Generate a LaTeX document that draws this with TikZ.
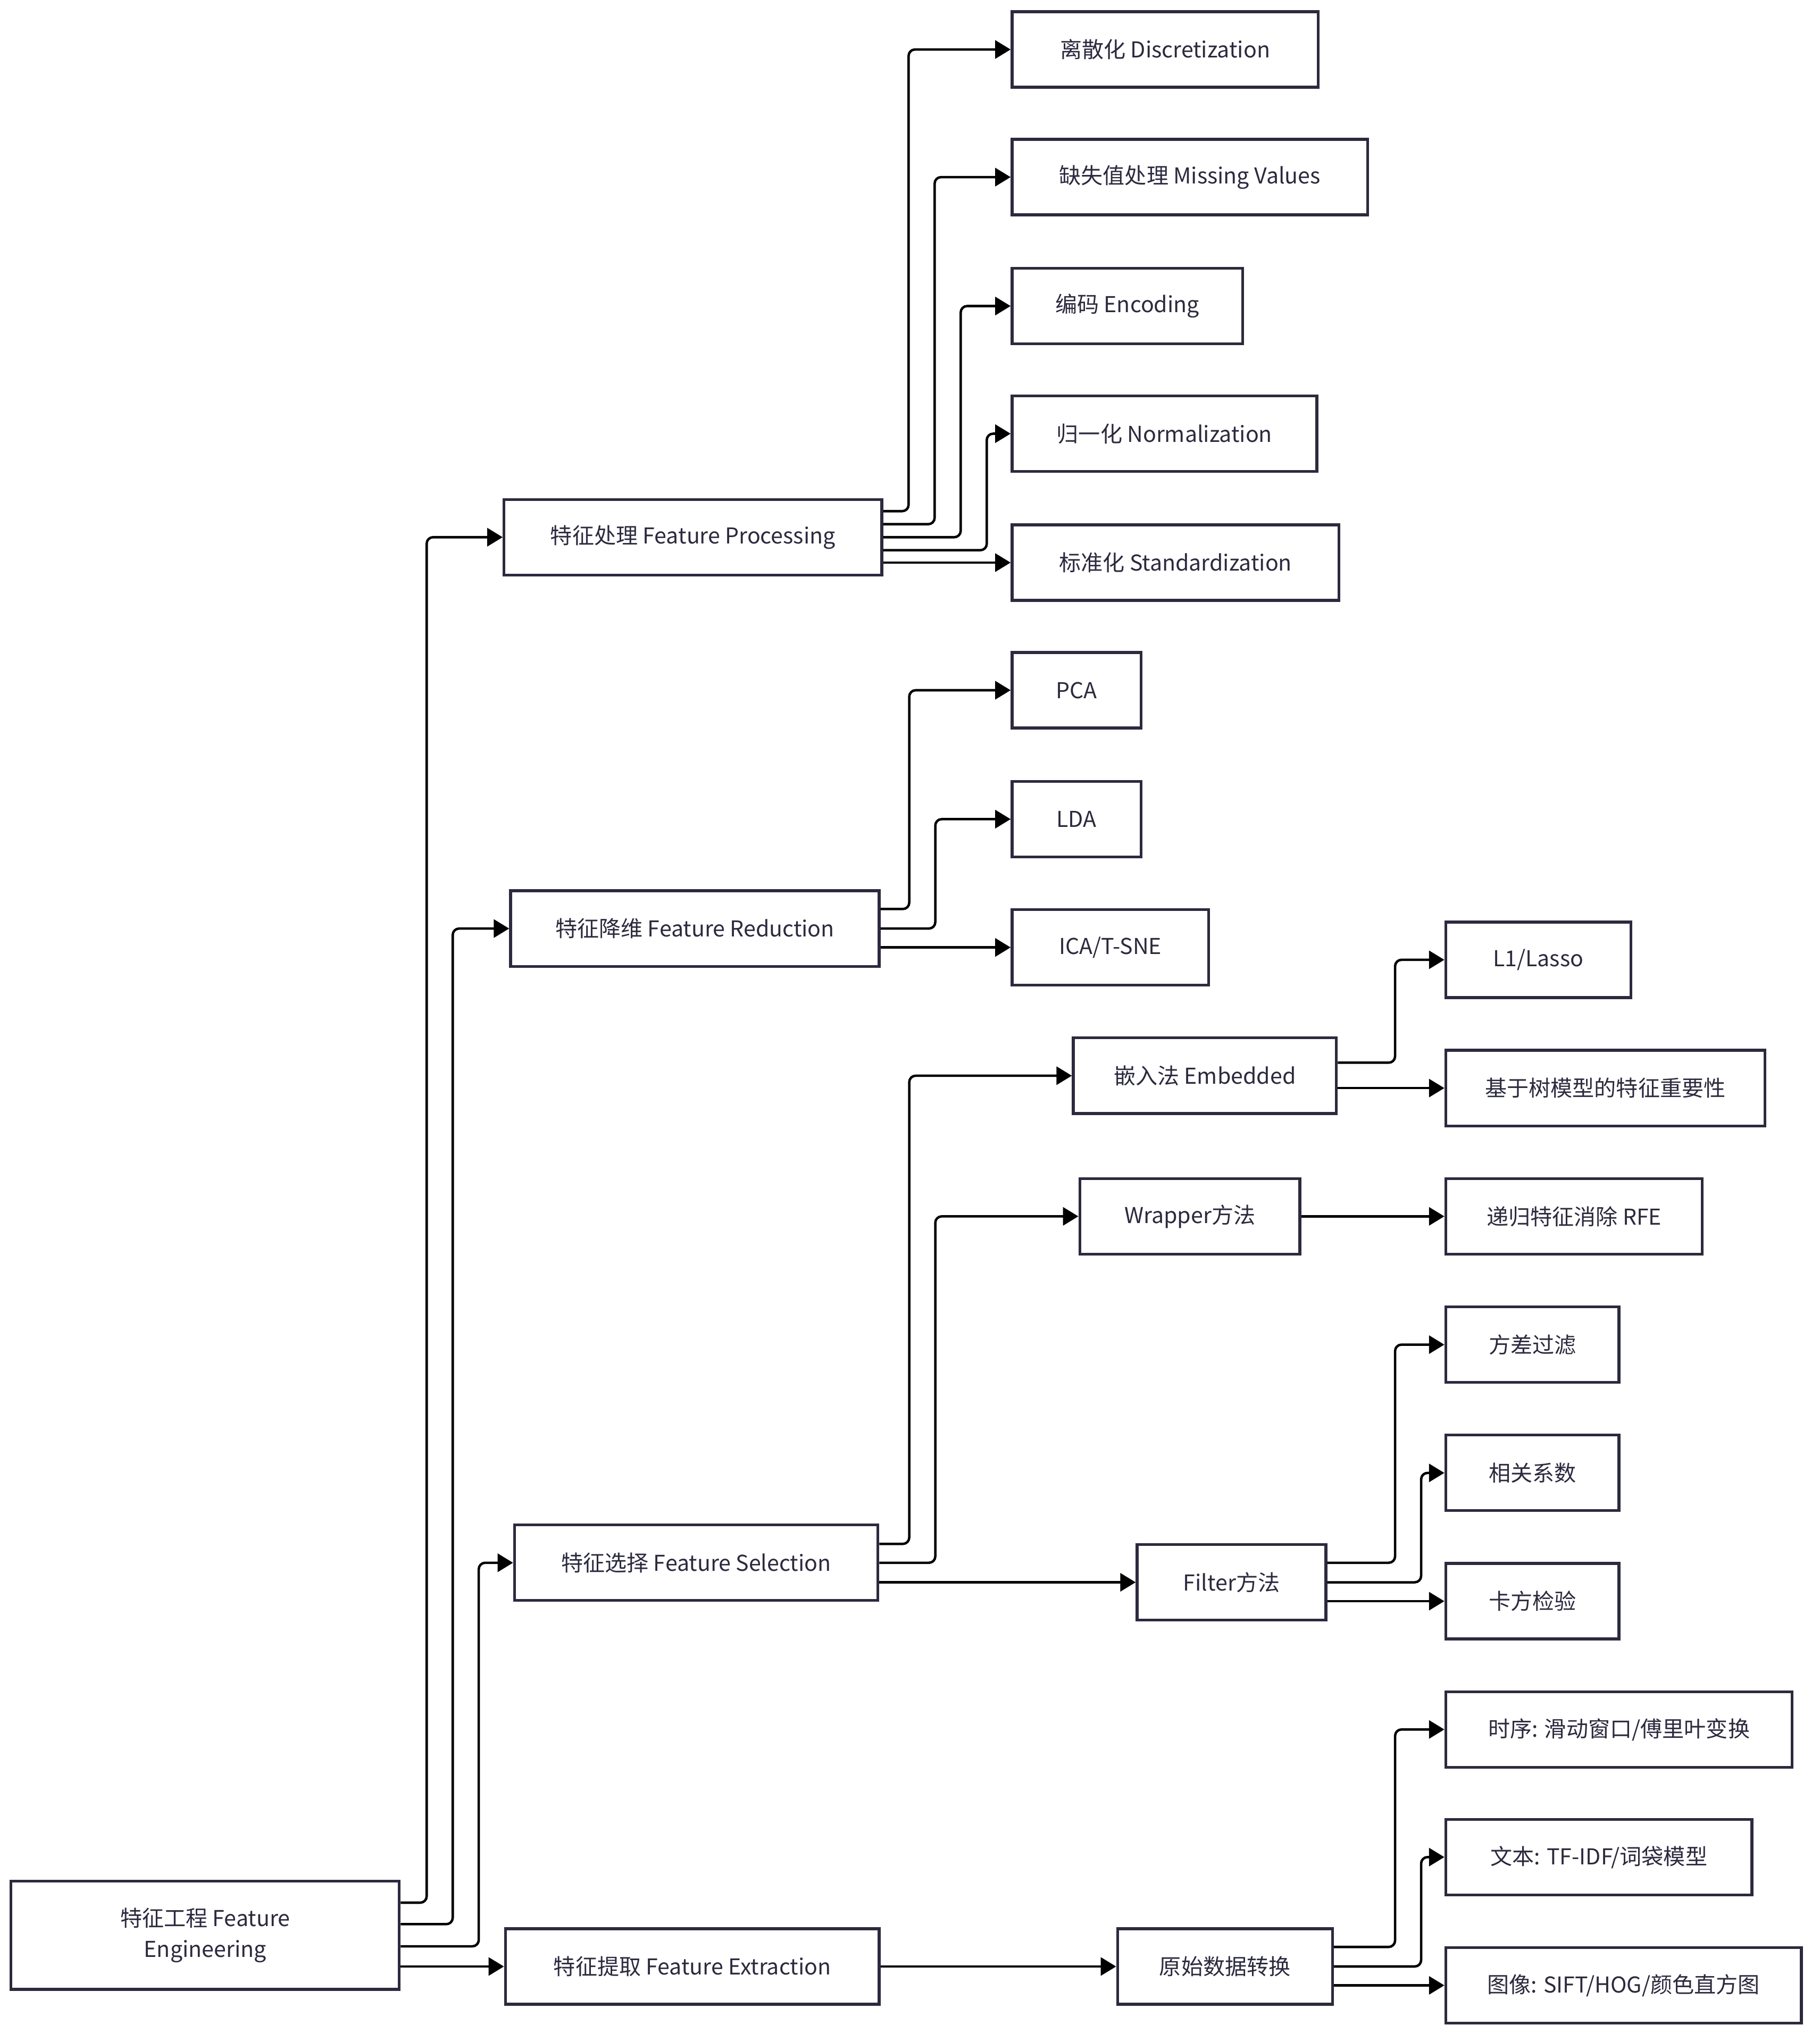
\documentclass[tikz,border=0pt]{standalone}
\usepackage{fontspec}
\setmainfont{Noto Sans CJK SC}
\usetikzlibrary{arrows.meta}
\definecolor{ink}{RGB}{43,42,62}

\begin{document}
\begin{tikzpicture}[x=0.24488mm,y=-0.24488mm,
				>={Triangle[length=2.9mm,width=3.4mm]},
				rounded corners=1.2mm,
				box/.style={rectangle, sharp corners, draw=ink, line width=1.5pt, fill=white, text=ink,
					minimum height=58*0.24488mm, inner sep=0pt,
					font=\fontsize{11.7pt}{16.5pt}\selectfont, align=center},
				wd/.style={minimum width=#1*0.24488mm},
				link/.style={->, line width=1.3pt, black}
			]
			\useasboundingbox (0,0) rectangle (1397,1568);
			
			\node[box,wd=298,minimum height=83*0.24488mm] (fe) at (157.5,1486) {特征工程 Feature\\Engineering};
			
			\node[box,wd=290] (fp) at (532,412.5) {特征处理 Feature Processing};
			\node[box,wd=283] (fr) at (533.5,713) {特征降维 Feature Reduction};
			\node[box,wd=279] (fs) at (534.5,1200) {特征选择 Feature Selection};
			\node[box,wd=287] (fx) at (531.5,1510) {特征提取 Feature Extraction};
			
			\node[box,wd=235] (fp_1) at (894.5,38) {离散化 Discretization};
			\node[box,wd=273] (fp_2) at (913.5,136) {缺失值处理 Missing Values};
			\node[box,wd=177] (fp_3) at (865.5,235) {编码 Encoding};
			\node[box,wd=234] (fp_4) at (894,333) {归一化 Normalization};
			\node[box,wd=251] (fp_5) at (902.5,432) {标准化 Standardization};
			
			\node[box,wd=99] (fr_1) at (826.5,530) {PCA};
			\node[box,wd=99] (fr_2) at (826.5,629) {LDA};
			\node[box,wd=151] (fr_3) at (852.5,727.5) {ICA/T-SNE};
			
			\node[box,wd=202] (fs_e) at (925,826) {嵌入法 Embedded};
			\node[box,wd=169] (fs_w) at (913.5,934) {Wrapper方法};
			\node[box,wd=145] (fs_f) at (945.5,1215) {Filter方法};
			\node[box,wd=165] (fx_r) at (940.5,1510) {原始数据转换};
			
			\node[box,wd=142] (e_1) at (1181,737) {L1/Lasso};
			\node[box,wd=245] (e_2) at (1232.5,835.5) {基于树模型的特征重要性};
			\node[box,wd=197] (w_1) at (1208.5,934) {递归特征消除 RFE};
			\node[box,wd=133] (f_1) at (1176.5,1032.5) {方差过滤};
			\node[box,wd=133] (f_2) at (1176.5,1131) {相关系数};
			\node[box,wd=133] (f_3) at (1176.5,1229.5) {卡方检验};
			\node[box,wd=266] (x_1) at (1243,1328) {时序: 滑动窗口/傅里叶变换};
			\node[box,wd=235] (x_2) at (1227.5,1426) {文本: TF-IDF/词袋模型};
			\node[box,wd=273] (x_3) at (1246.5,1524.5) {图像: SIFT/HOG/颜色直方图};
			
			% root
			\draw[link] (fe.east) ++(0,-25) -- ++(20,0) |- (fp.west);
			\draw[link] (fe.east) ++(0,-8.5) -- ++(40,0) |- (fr.west);
			\draw[link] (fe.east) ++(0,8.5) -- ++(60,0) |- (fs.west);
			\draw[link] (fx.west -| fe.east) -- (fx.west);
			
			% processing
			\draw[link] (fp.east) ++(0,-20) -- ++(19.5,0) |- (fp_1.west);
			\draw[link] (fp.east) ++(0,-10) -- ++(39.5,0) |- (fp_2.west);
			\draw[link] (fp.east) -- ++(59.5,0) |- (fp_3.west);
			\draw[link] (fp.east) ++(0,10) -- ++(79.5,0) |- (fp_4.west);
			\draw[link] (fp_5.west -| fp.east) -- (fp_5.west);
			
			% reduction
			\draw[link] (fr.east) ++(0,-15) -- ++(22,0) |- (fr_1.west);
			\draw[link] (fr.east) -- ++(42,0) |- (fr_2.west);
			\draw[link] (fr_3.west -| fr.east) -- (fr_3.west);
			
			% selection
			\draw[link] (fs.east) ++(0,-14.5) -- ++(23,0) |- (fs_e.west);
			\draw[link] (fs.east) -- ++(43,0) |- (fs_w.west);
			\draw[link] (fs_f.west -| fs.east) -- (fs_f.west);
			
			\draw[link] (fs_e.east) ++(0,-10) -- ++(44,0) |- (e_1.west);
			\draw[link] (e_2.west -| fs_e.east) -- (e_2.west);
			\draw[link] (fs_w.east) -- (w_1.west);
			
			\draw[link] (fs_f.east) ++(0,-15) -- ++(52,0) |- (f_1.west);
			\draw[link] (fs_f.east) -- ++(72,0) |- (f_2.west);
			\draw[link] (f_3.west -| fs_f.east) -- (f_3.west);
			
			% extraction
			\draw[link] (fx.east) -- (fx_r.west);
			\draw[link] (fx_r.east) ++(0,-15) -- ++(47,0) |- (x_1.west);
			\draw[link] (fx_r.east) -- ++(67,0) |- (x_2.west);
			\draw[link] (x_3.west -| fx_r.east) -- (x_3.west);
		\end{tikzpicture}
\end{document}
